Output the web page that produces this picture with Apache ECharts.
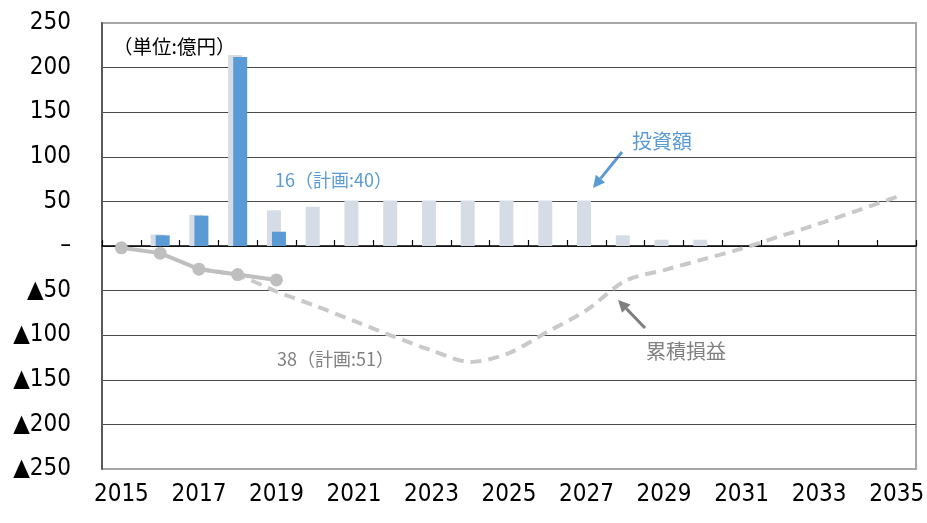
<!DOCTYPE html>
<html>
<head>
<meta charset="utf-8">
<script src="https://cdn.jsdelivr.net/npm/echarts@6/dist/echarts.min.js"></script>
<style>
html,body{margin:0;padding:0;background:#fff;}
#chart{width:927px;height:523px;}
</style>
</head>
<body>
<div id="chart"></div>
<script>
const years = ['2015','2016','2017','2018','2019','2020','2021','2022','2023','2024','2025','2026','2027','2028','2029','2030','2031','2032','2033','2034','2035'];
const planInvest   = [null, 13, 35, 214, 40, 44, 51, 51, 51, 51, 51, 51, 51, 12, 7, 7, null, null, null, null, null];
const actualInvest = [null, 12, 34, 212, 16, null, null, null, null, null, null, null, null, null, null, null, null, null, null, null, null];
const planCumPL    = [null, null, -26, -33, -51, -67, -84, -101, -117, -130, -120, -96, -72, -39, -27, -15, -3, 11, 25, 40, 55];
const actualCumPL  = [-2, -8, -26, -32, -38, null, null, null, null, null, null, null, null, null, null, null, null, null, null, null, null];
const yTicks = { min: -250, max: 250, interval: 50 };

const NARROW = "'Liberation Sans Narrow', 'DejaVu Sans Condensed', 'Liberation Sans', sans-serif";
const CJK = "'Noto Sans CJK JP', 'Noto Sans', sans-serif";

const chart = echarts.init(document.getElementById('chart'));
chart.setOption({
  animation: false,
  backgroundColor: '#ffffff',
  grid: { left: 102, right: 6, top: 23, bottom: 54, show: true, borderColor: '#A6A6A6', borderWidth: 2, backgroundColor: 'transparent' },
  xAxis: [
    {
      type: 'category', data: years, position: 'bottom', boundaryGap: true,
      axisLine: { show: false, onZero: false },
      axisTick: { show: false },
      axisLabel: { interval: 1, color: '#000', fontSize: 24, fontFamily: NARROW, margin: 14 },
      splitLine: { show: false }
    },
    {
      type: 'category', data: years, position: 'bottom', boundaryGap: true,
      axisLine: { show: true, onZero: true, lineStyle: { color: '#000', width: 1.5 } },
      axisTick: { show: true, inside: true, length: 6, interval: 0, lineStyle: { color: '#000', width: 1.2 } },
      axisLabel: { show: false },
      splitLine: { show: false }
    }
  ],
  yAxis: {
    type: 'value', min: yTicks.min, max: yTicks.max, interval: yTicks.interval,
    axisLine: { show: true, onZero: false, lineStyle: { color: '#595959', width: 2 } },
    axisTick: { show: false },
    splitLine: { show: true, showMaxLine: false, showMinLine: false, lineStyle: { color: '#4a4a4a', width: 1 } },
    axisLabel: {
      color: '#000', fontSize: 24, fontFamily: NARROW, margin: 31,
      formatter: function (v) { return v > 0 ? String(v) : (v === 0 ? '–' : '▲' + Math.abs(v)); }
    }
  },
  series: [
    {
      name: '投資額(計画)', type: 'bar', data: planInvest, barWidth: 14, barGap: '-64%',
      itemStyle: { color: '#D6DCE5' }, z: 2
    },
    {
      name: '投資額(実績)', type: 'bar', data: actualInvest, barWidth: 14,
      itemStyle: { color: '#5B9BD5' }, z: 3
    },
    {
      name: '累積損益(計画)', type: 'line', data: planCumPL, smooth: 0.3, symbol: 'none',
      lineStyle: { color: '#C9C9C9', width: 4, type: [11, 7] }, z: 4
    },
    {
      name: '累積損益(実績)', type: 'line', data: actualCumPL, symbol: 'circle', symbolSize: 13,
      lineStyle: { color: '#BFBFBF', width: 4 }, itemStyle: { color: '#BFBFBF' }, z: 5
    }
  ],
  graphic: [
    { type: 'text', left: 113, top: 37, style: { text: '（単位:億円）', fontSize: 19.5, fontFamily: CJK, fill: '#000' } },
    { type: 'text', left: 275, top: 171, style: { text: '16（計画:40）', fontSize: 18, fontFamily: CJK, fill: '#5B9BD5' } },
    { type: 'text', left: 277, top: 350, style: { text: '38（計画:51）', fontSize: 18, fontFamily: CJK, fill: '#7F7F7F' } },
    { type: 'text', left: 632, top: 131, style: { text: '投資額', fontSize: 20, fontFamily: CJK, fill: '#5B9BD5' } },
    { type: 'text', left: 646, top: 341, style: { text: '累積損益', fontSize: 20, fontFamily: CJK, fill: '#7F7F7F' } },
    { type: 'line', shape: { x1: 622, y1: 152, x2: 600.5, y2: 178.6 }, style: { stroke: '#5B9BD5', lineWidth: 3 } },
    { type: 'polygon', shape: { points: [[593, 188], [605.2, 182.4], [595.8, 174.8]] }, style: { fill: '#5B9BD5' } },
    { type: 'line', shape: { x1: 645, y1: 328, x2: 626.3, y2: 308.6 }, style: { stroke: '#7F7F7F', lineWidth: 3 } },
    { type: 'polygon', shape: { points: [[618, 300], [630.6, 304.4], [622.0, 312.8]] }, style: { fill: '#7F7F7F' } }
  ]
});
</script>
</body>
</html>
